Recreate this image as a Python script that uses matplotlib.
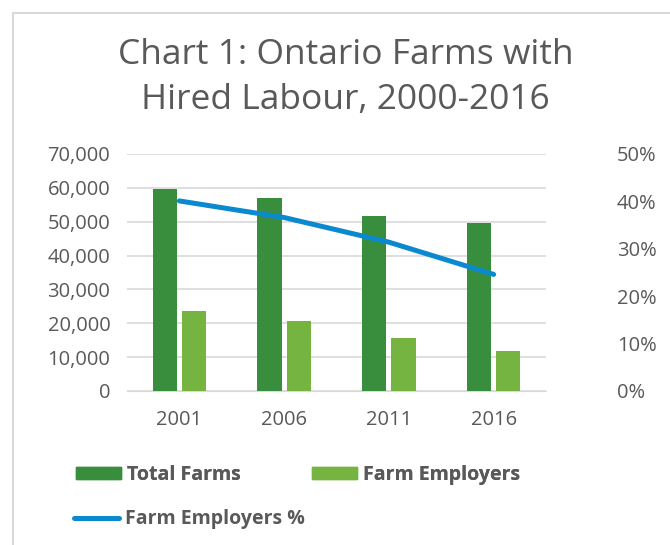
import matplotlib
matplotlib.use("Agg")
from matplotlib import pyplot as plt
from matplotlib.patches import Rectangle, Patch
from matplotlib.lines import Line2D
from matplotlib.ticker import FuncFormatter
import numpy as np

years = ["2001", "2006", "2011", "2016"]
total_farms = [59700, 57100, 51700, 49500]
farm_employers = [23700, 20600, 15700, 11900]
employer_pct = [40.1, 36.6, 31.4, 24.6]

dark_green = "#388E3C"
light_green = "#76B442"
blue = "#0A89CE"
grey_txt = "#595959"

plt.rcParams["font.family"] = ["Open Sans", "DejaVu Sans"]

fig = plt.figure(figsize=(6.7, 5.45), dpi=100)
ax = fig.add_axes([127 / 670, 1 - 391 / 545, 419 / 670, 237 / 545])
ax2 = ax.twinx()

x = np.arange(len(years))
w = 0.23
ax.bar(x - 0.14, total_farms, w, color=dark_green, zorder=3)
ax.bar(x + 0.14, farm_employers, w, color=light_green, zorder=3)
ax2.plot(x, employer_pct, color=blue, lw=3.6, solid_capstyle="round", zorder=4)

ax.set_xlim(-0.5, 3.5)
ax.set_ylim(0, 70000)
ax.set_yticks(np.arange(0, 70001, 10000))
ax.yaxis.set_major_formatter(FuncFormatter(lambda v, p: f"{int(v):,}"))
ax2.set_ylim(0, 50)
ax2.set_yticks(np.arange(0, 51, 10))
ax2.yaxis.set_major_formatter(FuncFormatter(lambda v, p: f"{int(v)}%"))

ax.set_xticks(x)
ax.set_xticklabels(years)
ax.grid(axis="y", color="#D9D9D9", lw=1.2, zorder=0)
for a in (ax, ax2):
    for s in a.spines.values():
        s.set_visible(False)
    a.tick_params(length=0, colors=grey_txt, labelsize=14.5)
ax.spines["bottom"].set_visible(True)
ax.spines["bottom"].set_color("#D9D9D9")
ax.tick_params(axis="y", pad=12)
ax.tick_params(axis="x", pad=14)
ax2.tick_params(axis="y", pad=51)
for lbl in ax2.get_yticklabels():
    lbl.set_horizontalalignment("left")

fig.text(0.516, 1 - 55 / 545, "Chart 1: Ontario Farms with", ha="center", va="center",
         fontsize=25.5, color=grey_txt)
fig.text(0.516, 1 - 100 / 545, "Hired Labour, 2000-2016", ha="center", va="center",
         fontsize=25.5, color=grey_txt)

# chart frame (only left and top edges fall inside the image)
fig.add_artist(Rectangle((13 / 670, -0.1), 1.2, 1 - 13 / 545 + 0.1, transform=fig.transFigure,
                         fill=False, edgecolor="#D9D9D9", lw=1.5))

leg_kw = dict(frameon=False, handlelength=2.3, handleheight=0.55, handletextpad=0.3,
              borderpad=0, borderaxespad=0, prop={"size": 14, "weight": "bold"},
              labelcolor=grey_txt)
row1 = fig.legend([Patch(color=dark_green), Patch(color=light_green)],
                  ["Total Farms", "Farm Employers"], ncol=2, columnspacing=3.7,
                  loc="center left", bbox_to_anchor=(76 / 670, 1 - 475 / 545), **leg_kw)
fig.add_artist(row1)
fig.legend([Line2D([], [], color=blue, lw=3.6, solid_capstyle="round")],
           ["Farm Employers %"], loc="center left",
           bbox_to_anchor=(74 / 670, 1 - 519 / 545), **leg_kw)

fig.savefig("out.png", dpi=100)
